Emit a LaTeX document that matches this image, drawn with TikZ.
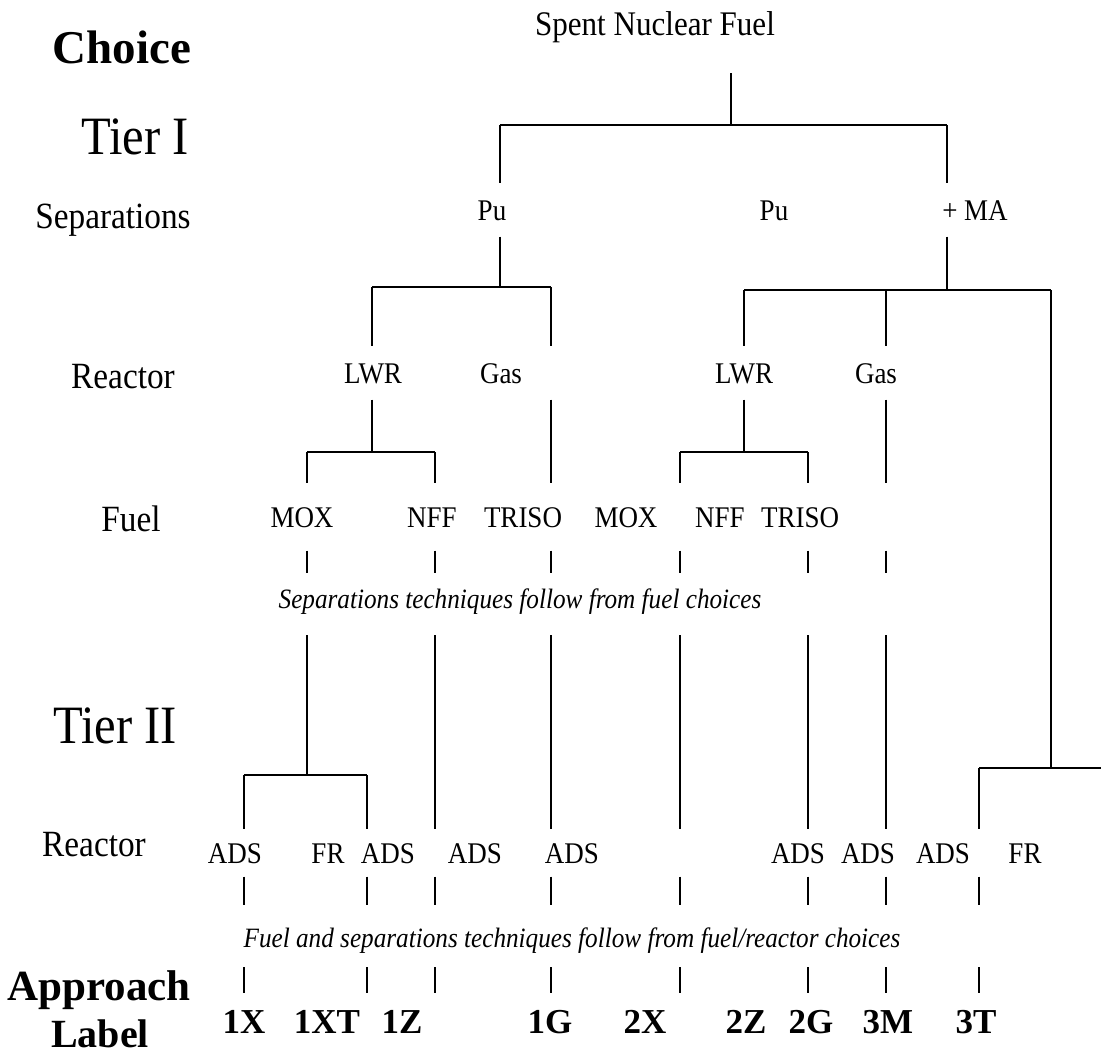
\documentclass[tikz,border=0pt]{standalone}
\usepackage{fontspec}
\setmainfont{Liberation Serif}[FakeStretch=0.9]
\newfontfamily\hdfamily{Liberation Serif}
\usepackage{tikz}
\usetikzlibrary{positioning}
\usetikzlibrary{calc}
\newcommand{\treefont}{\fontsize{30}{30}\selectfont}
\newcommand{\rootfont}{\fontsize{34.5}{34.5}\selectfont}
\newcommand{\sidefont}{\fontsize{37}{37}\selectfont}
\newcommand{\tierfont}{\fontsize{54}{54}\selectfont}
\newcommand{\notefont}{\fontsize{28}{28}\selectfont\itshape}
\newcommand{\apfont}{\hdfamily\bfseries\fontsize{35}{35}\selectfont}
\tikzset{opt/.style={font=\treefont, inner xsep=0pt, inner ysep=16pt, text height=20pt, text depth=0pt}}
\tikzset{fuelopt/.style={opt, inner ysep=23pt}}
\tikzset{adsopt/.style={opt, inner ysep=13pt}}
\tikzset{ap/.style={font=\apfont, inner xsep=0pt, inner ysep=17pt, text height=23pt, text depth=0pt}}
\tikzset{side/.style={font=\sidefont, inner sep=0pt, text height=24pt, text depth=0pt}}
\tikzset{tier/.style={font=\tierfont, inner sep=0pt, text height=36pt, text depth=0pt}}
\tikzset{head/.style={font=\hdfamily\bfseries\fontsize{#1}{#1}\selectfont, inner sep=0pt, text height=28pt, text depth=0pt}}
\tikzset{note/.style={font=\notefont, inner sep=0pt}}
\tikzset{bar/.style={line width=2pt}}

\begin{document}
\begin{tikzpicture}[x=1pt, y=-1pt, line width=1.3pt]
\useasboundingbox (0,0) rectangle (1101,1055);
% left column
\node[head=47] (choice) at (122,49) {Choice};
\node[tier] (tierI) at (135,136) {Tier I};
\node[side] (sepl) at (113,216) {Separations};
\node[side] (reacl) at (123,376) {Reactor};
\node[side] (fuell) at (131,519) {Fuel};
\node[tier] (tierII) at (115,725) {Tier II};
\node[side] (reacll) at (94,844) {Reactor};
\node[head=43] (approach) at (99,986) {Approach};
\node[head=40] (label) at (100,1033) {Label};
%
\node[opt, font=\rootfont] (snf) at (655,25) {Spent Nuclear Fuel};
\node[opt] (pua) at (492,210) {Pu};
\node[opt] (pub) at (774,210) {Pu};
\node[opt] (ma) at (975,210) {+ MA};
\node[opt] (lwra) at (373,373) {LWR};
\node[opt] (gasa) at (501,373) {Gas};
\node[opt] (lwrb) at (744,373) {LWR};
\node[opt] (gasb) at (876,373) {Gas};
\node[fuelopt] (moxa) at (302,517) {MOX};
\node[fuelopt] (nffa) at (432,517) {NFF};
\node[fuelopt] (trisoa) at (523,517) {TRISO};
\node[fuelopt] (moxb) at (626,517) {MOX};
\node[fuelopt] (nffb) at (720,517) {NFF};
\node[fuelopt] (trisob) at (800,517) {TRISO};
\node[note] (notea) at (520,602) {Separations techniques follow from fuel choices};
\node[adsopt] (adsa) at (235,853) {ADS};
\node[adsopt] (fra) at (328,853) {FR};
\node[adsopt] (adsb) at (388,853) {ADS};
\node[adsopt] (adsc) at (475,853) {ADS};
\node[adsopt] (adsd) at (572,853) {ADS};
\node[adsopt] (adse) at (798,853) {ADS};
\node[adsopt] (adsf) at (868,853) {ADS};
\node[adsopt] (adsg) at (943,853) {ADS};
\node[adsopt] (frb) at (1025,853) {FR};
\node[note] (noteb) at (572,941) {Fuel and separations techniques follow from fuel/reactor choices};
\node[ap] (a1x) at (244,1022) {1X};
\node[ap] (a1xt) at (327,1022) {1XT};
\node[ap] (a1z) at (402,1022) {1Z};
\node[ap] (a1g) at (550,1022) {1G};
\node[ap] (a2x) at (645,1022) {2X};
\node[ap] (a2z) at (746,1022) {2Z};
\node[ap] (a2g) at (811,1022) {2G};
\node[ap] (a3m) at (888,1022) {3M};
\node[ap] (a3t) at (976,1022) {3T};
%
\coordinate (root) at (731,73);
\coordinate (rootj) at (731,125);
\coordinate (sl) at (500,125);
\coordinate (sr) at (947,125);
\coordinate (ja) at (500,287);
\coordinate (jal) at (372,287);
\coordinate (jar) at (551,287);
\coordinate (jb) at (947,290);
\coordinate (jbl) at (744,290);
\coordinate (jbm) at (886,290);
\coordinate (jbr) at (1051,290);
\coordinate (jd) at (372,452);
\coordinate (jdl) at (307,452);
\coordinate (jdr) at (435,452);
\coordinate (je) at (744,452);
\coordinate (jel) at (680,452);
\coordinate (jer) at (808,452);
\coordinate (jf) at (307,775);
\coordinate (jfl) at (244,775);
\coordinate (jfr) at (367,775);
\coordinate (jc) at (1051,768);
\coordinate (jcl) at (979,768);
\coordinate (jcr) at (1101,768);
\coordinate (bandat) at (0,573);
\coordinate (bandab) at (0,635);
\coordinate (bandbt) at (0,905);
\coordinate (bandbb) at (0,967);
%
% Tier I
\draw (root) -- (rootj);
\draw[bar] (sl) -- (sr);
\draw (sl) -- (pua.north -| sl);
\draw (sr) -- (ma.north -| sr);
\draw (pua.south -| ja) -- (ja);
\draw[bar] (jal) -- (jar);
\draw (jal) -- (lwra.north -| jal);
\draw (jar) -- (gasa.north -| jar);
\draw (ma.south -| jb) -- (jb);
\draw[bar] (jbl) -- (jbr);
\draw (jbl) -- (lwrb.north -| jbl);
\draw (jbm) -- (gasb.north -| jbm);
\draw (lwra.south -| jd) -- (jd);
\draw[bar] (jdl) -- (jdr);
\draw (jdl) -- (moxa.north -| jdl);
\draw (jdr) -- (nffa.north -| jdr);
\draw (gasa.south -| jar) -- (trisoa.north -| jar);
\draw (lwrb.south -| je) -- (je);
\draw[bar] (jel) -- (jer);
\draw (jel) -- (nffb.north -| jel);
\draw (jer) -- (trisob.north -| jer);
\draw (gasb.south -| jbm) -- (trisob.north -| jbm);
% ticks above the first note
\draw (moxa.south -| jdl) -- (bandat -| jdl);
\draw (moxa.south -| jdr) -- (bandat -| jdr);
\draw (moxa.south -| jar) -- (bandat -| jar);
\draw (moxa.south -| jel) -- (bandat -| jel);
\draw (moxa.south -| jer) -- (bandat -| jer);
\draw (moxa.south -| jbm) -- (bandat -| jbm);
% Tier II
\draw (bandab -| jdl) -- (jf);
\draw[bar] (jfl) -- (jfr);
\draw (jfl) -- (adsa.north -| jfl);
\draw (jfr) -- (adsb.north -| jfr);
\draw (bandab -| jdr) -- (adsc.north -| jdr);
\draw (bandab -| jar) -- (adsd.north -| jar);
\draw (bandab -| jel) -- (adsd.north -| jel);
\draw (bandab -| jer) -- (adse.north -| jer);
\draw (bandab -| jbm) -- (adsf.north -| jbm);
\draw (jbr) -- (jc);
\draw[bar] (jcl) -- (jcr);
\draw (jcl) -- (adsg.north -| jcl);
% ticks round the second note
\draw (adsa.south -| jfl) -- (bandbt -| jfl);
\draw (adsa.south -| jfr) -- (bandbt -| jfr);
\draw (adsa.south -| jdr) -- (bandbt -| jdr);
\draw (adsa.south -| jar) -- (bandbt -| jar);
\draw (adsa.south -| jel) -- (bandbt -| jel);
\draw (adsa.south -| jer) -- (bandbt -| jer);
\draw (adsa.south -| jbm) -- (bandbt -| jbm);
\draw (adsa.south -| jcl) -- (bandbt -| jcl);
\draw (bandbb -| jfl) -- (a1x.north -| jfl);
\draw (bandbb -| jfr) -- (a1x.north -| jfr);
\draw (bandbb -| jdr) -- (a1x.north -| jdr);
\draw (bandbb -| jar) -- (a1x.north -| jar);
\draw (bandbb -| jel) -- (a1x.north -| jel);
\draw (bandbb -| jer) -- (a1x.north -| jer);
\draw (bandbb -| jbm) -- (a1x.north -| jbm);
\draw (bandbb -| jcl) -- (a1x.north -| jcl);
\end{tikzpicture}
\end{document}
